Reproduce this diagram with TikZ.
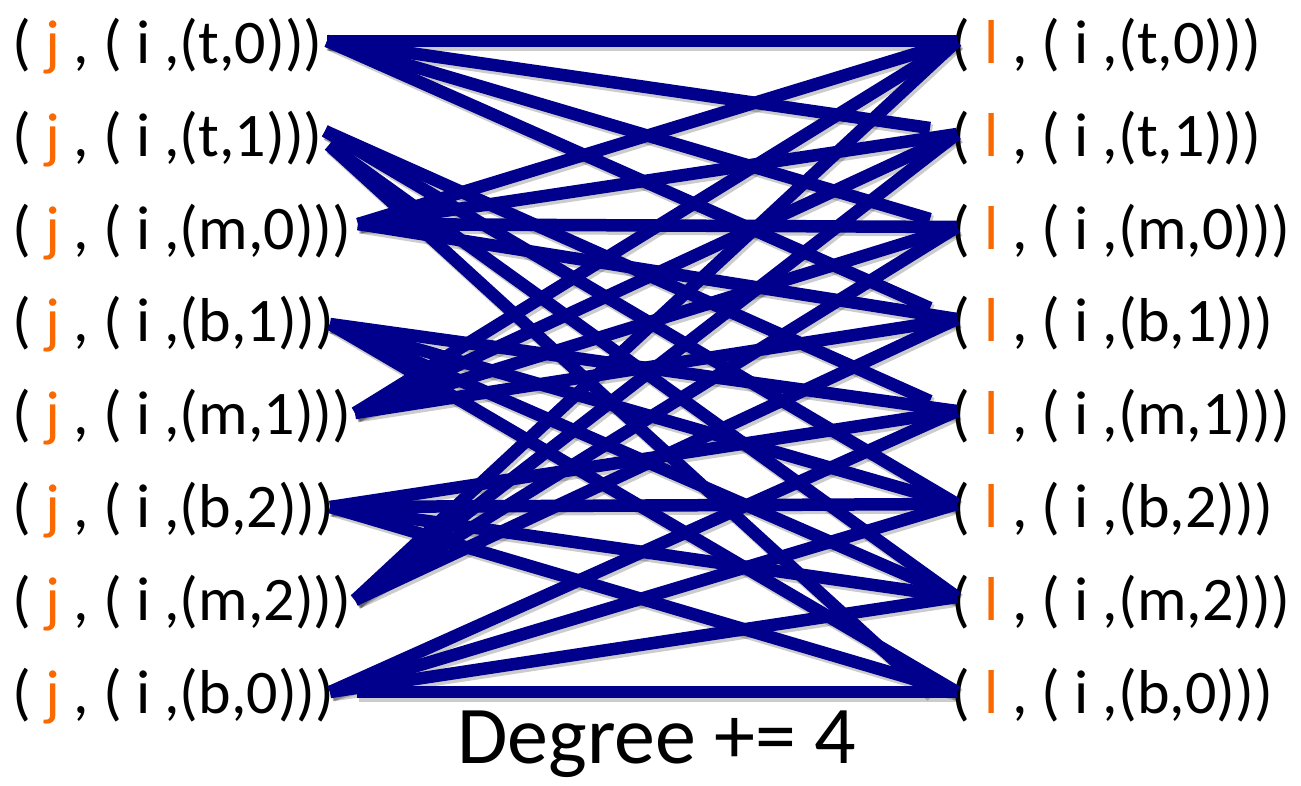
\documentclass[tikz,border=0pt]{standalone}
\usepackage{fontspec}
\setmainfont{Carlito}
\definecolor{edgeblue}{RGB}{0,0,140}
\definecolor{jor}{RGB}{250,105,0}
\begin{document}
\begin{tikzpicture}[x=1pt,y=-1pt,
  lab/.style={anchor=base west,inner sep=0pt,font=\fontsize{62}{70}\selectfont},
  captext/.style={anchor=base west,inner sep=0pt,font=\fontsize{82}{96}\selectfont},
  edgeline/.style={draw=edgeblue,line width=12.5pt},
  edgeshadow/.style={draw=black,opacity=0.2,line width=13pt,transform canvas={xshift=2pt,yshift=-3pt}}]
\useasboundingbox (0,0) rectangle (1301,785);
% left labels
\node[lab] (L0) at (12,63) {( \textcolor{jor}{j} , ( i ,(t,0)))};
\node[lab] (L1) at (12,156) {( \textcolor{jor}{j} , ( i ,(t,1)))};
\node[lab] (L2) at (12,249) {( \textcolor{jor}{j} , ( i ,(m,0)))};
\node[lab] (L3) at (12,341) {( \textcolor{jor}{j} , ( i ,(b,1)))};
\node[lab] (L4) at (12,434) {( \textcolor{jor}{j} , ( i ,(m,1)))};
\node[lab] (L5) at (12,527) {( \textcolor{jor}{j} , ( i ,(b,2)))};
\node[lab] (L6) at (12,620) {( \textcolor{jor}{j} , ( i ,(m,2)))};
\node[lab] (L7) at (12,713) {( \textcolor{jor}{j} , ( i ,(b,0)))};
% right labels
\node[lab] (R0) at (951,63) {( \textcolor{jor}{l} , ( i ,(t,0)))};
\node[lab] (R1) at (951,156) {( \textcolor{jor}{l} , ( i ,(t,1)))};
\node[lab] (R2) at (951,249) {( \textcolor{jor}{l} , ( i ,(m,0)))};
\node[lab] (R3) at (951,341) {( \textcolor{jor}{l} , ( i ,(b,1)))};
\node[lab] (R4) at (951,434) {( \textcolor{jor}{l} , ( i ,(m,1)))};
\node[lab] (R5) at (951,527) {( \textcolor{jor}{l} , ( i ,(b,2)))};
\node[lab] (R6) at (951,620) {( \textcolor{jor}{l} , ( i ,(m,2)))};
\node[lab] (R7) at (951,713) {( \textcolor{jor}{l} , ( i ,(b,0)))};
\node[captext] (deg) at (457,763) {Degree += 4};
% end points
\coordinate (a0) at (327,41);
\coordinate (a1) at (325,131);
\coordinate (a1x) at (329,145);
\coordinate (a2) at (358,224);
\coordinate (a3) at (330,324);
\coordinate (a4) at (355,413);
\coordinate (a5) at (330,507);
\coordinate (a6) at (355,600);
\coordinate (a7) at (330,692);
\coordinate (a7x) at (357,692);
\coordinate (b0) at (957,41);
\coordinate (b1) at (957,134);
\coordinate (b2) at (957,227);
\coordinate (b3) at (957,319);
\coordinate (b4) at (957,411);
\coordinate (b5) at (957,504);
\coordinate (b6) at (957,597);
\coordinate (b7) at (957,692);
\coordinate (s1) at (930,128);
\coordinate (s2) at (930,219);
\coordinate (s3) at (930,308);
\coordinate (s4) at (930,401);
\coordinate (s7) at (930,693);
\def\edgelist{a0/b0,a0/s1,a0/s2,a0/s3,
  a2/b0,a2/b1,a2/b2,a2/b3,
  a4/b0,a4/b1,a4/b2,a4/b3,
  a6/b0,a6/b1,a6/b2,a6/b3,
  a1/s4,a1/b5,a1x/b6,a1x/s7,
  a3/b4,a3/b5,a3/b6,a3/b7,
  a5/b4,a5/b5,a5/b6,a5/b7,
  a7/b4,a7/b5,a7/b6,a7x/b7}
\foreach \p/\q in \edgelist { \draw[edgeshadow] (\p) -- (\q); }
\foreach \p/\q in \edgelist { \draw[edgeline] (\p) -- (\q); }
\end{tikzpicture}
\end{document}
